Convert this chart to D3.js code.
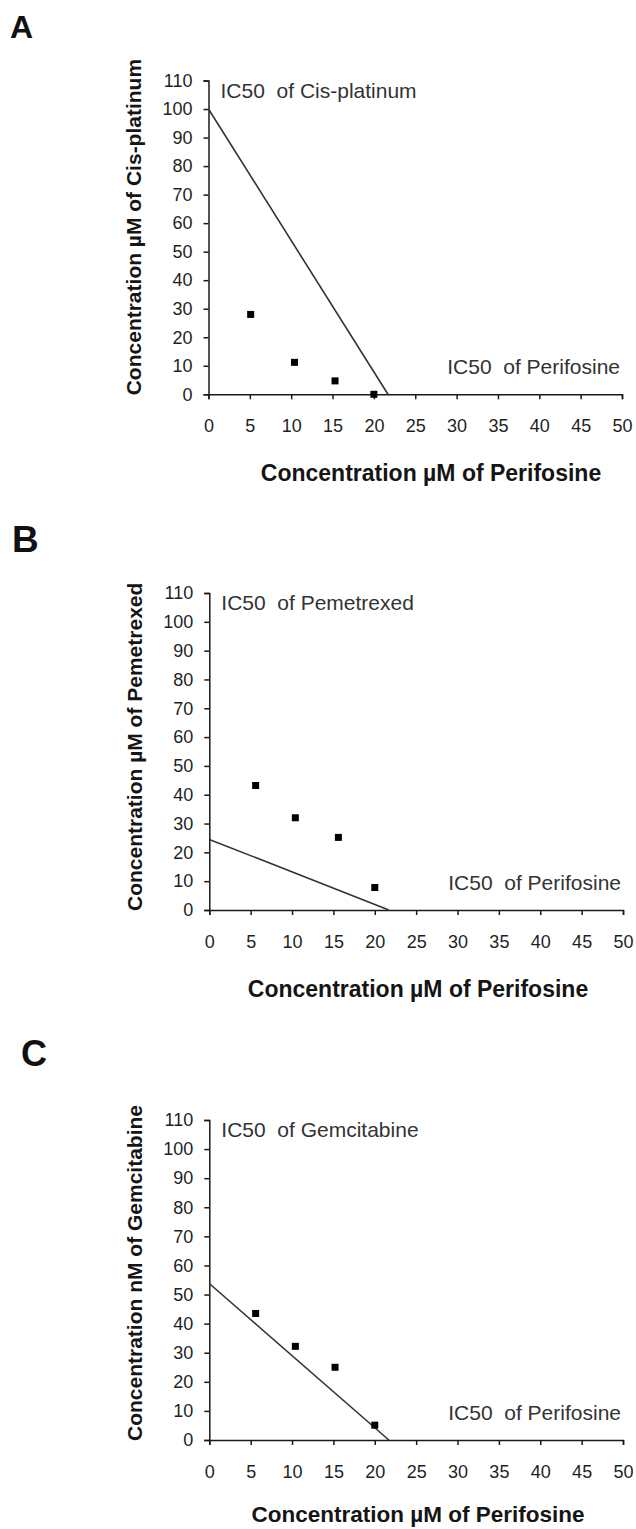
<!DOCTYPE html>
<html lang="en">
  <head>
    <meta charset="UTF-8" />
    <title>Isobologram: Perifosine combinations</title>
    <script src="https://d3js.org/d3.v7.min.js"></script>
    <style>
      body {
        margin: 0;
        background: #fff;
      }
      svg text {
        font-family: "Liberation Sans", Arial, sans-serif;
      }
      .tick text {
        font-size: 18px;
        fill: #1f1f1f;
      }
      .tick line,
      .domain {
        stroke: #1a1a1a;
        stroke-width: 1.5;
      }
      .ic50 {
        font-size: 21px;
        fill: #333;
        white-space: pre;
      }
      .title {
        font-weight: bold;
        fill: #151515;
        white-space: pre;
      }
    </style>
  </head>
  <body>
    <svg id="chart" width="636" height="1529"></svg>

    <script>
      // --- data ---
      const panelLetters = ["A", "B", "C"];
      const xTickValues = [0, 5, 10, 15, 20, 25, 30, 35, 40, 45, 50];
      const yTickValues = [0, 10, 20, 30, 40, 50, 60, 70, 80, 90, 100, 110];
      const xTitle = "Concentration µM of Perifosine";
      const yTitles = [
        "Concentration µM of Cis-platinum",
        "Concentration µM of Pemetrexed",
        "Concentration nM of Gemcitabine",
      ];
      const drugLabels = [
        "IC50  of Cis-platinum",
        "IC50  of Pemetrexed",
        "IC50  of Gemcitabine",
      ];
      const perifosineLabel = "IC50  of Perifosine";

      // additivity lines: [perifosine, drug]
      const lineA = [[0, 100], [21.7, 0]];
      const lineB = [[0, 24.5], [21.7, 0]];
      const lineC = [[0, 53.8], [21.7, 0]];

      // combination points: [perifosine, drug]
      const pointsA = [[5.1, 28], [10.4, 11.2], [15.3, 4.7], [20, 0]];
      const pointsB = [[5.6, 43.2], [10.4, 32], [15.6, 25.2], [20, 7.8]];
      const pointsC = [[5.6, 43.5], [10.4, 32.2], [15.2, 25], [20, 5.1]];

      const lines = [lineA, lineB, lineC];
      const points = [pointsA, pointsB, pointsC];

      // --- layout (pixels) ---
      const layout = [
        { lx: 10, ly: 38, lsize: 32, left: 208.5, right: 622, top: 80.5, bottom: 394.3, tx: 431, ty: 481, ts: 23, yt: 141 },
        { lx: 12, ly: 552, lsize: 37, left: 209.3, right: 623, top: 593, bottom: 910, tx: 418, ty: 997, ts: 23, yt: 142 },
        { lx: 21, ly: 1066, lsize: 36, left: 209.3, right: 623, top: 1120, bottom: 1440, tx: 418, ty: 1522, ts: 22.5, yt: 142 },
      ];

      const svg = d3.select("#chart");

      layout.forEach((p, i) => {
        const g = svg.append("g");

        const x = d3.scaleLinear().domain([0, 50]).range([p.left, p.right]);
        const y = d3.scaleLinear().domain([0, 110]).range([p.bottom, p.top]);

        // panel letter
        g.append("text")
          .attr("x", p.lx)
          .attr("y", p.ly)
          .attr("font-size", p.lsize)
          .attr("font-weight", "bold")
          .attr("fill", "#111")
          .text(panelLetters[i]);

        // axes
        g.append("g")
          .attr("transform", `translate(0,${p.bottom})`)
          .call(
            d3.axisBottom(x)
              .tickValues(xTickValues)
              .tickFormat(d3.format("d"))
              .tickSize(5)
              .tickSizeOuter(5)
              .tickPadding(20)
          );

        g.append("g")
          .attr("transform", `translate(${p.left},0)`)
          .call(
            d3.axisLeft(y)
              .tickValues(yTickValues)
              .tickFormat(d3.format("d"))
              .tickSize(5)
              .tickSizeOuter(5)
              .tickPadding(11)
          );

        g.selectAll(".tick text").attr("font-family", null).attr("font-size", null);
        g.selectAll(".domain").attr("fill", "none");

        // additivity line
        g.append("path")
          .datum(lines[i])
          .attr("fill", "none")
          .attr("stroke", "#333")
          .attr("stroke-width", 1.6)
          .attr("d", d3.line().x((d) => x(d[0])).y((d) => y(d[1])));

        // combination points
        g.selectAll(".pt")
          .data(points[i])
          .enter()
          .append("rect")
          .attr("class", "pt")
          .attr("x", (d) => x(d[0]) - 3.5)
          .attr("y", (d) => y(d[1]) - 3.5)
          .attr("width", 7)
          .attr("height", 7)
          .attr("fill", "#000");

        // IC50 labels
        g.append("text")
          .attr("class", "ic50")
          .attr("x", p.left + 12)
          .attr("y", p.top + 17)
          .text(drugLabels[i]);

        g.append("text")
          .attr("class", "ic50")
          .attr("x", p.right - 2)
          .attr("y", p.bottom - 20)
          .attr("text-anchor", "end")
          .text(perifosineLabel);

        // axis titles
        g.append("text")
          .attr("class", "title")
          .attr("x", p.tx)
          .attr("y", p.ty)
          .attr("text-anchor", "middle")
          .style("font-size", p.ts + "px")
          .text(xTitle);

        g.append("text")
          .attr("class", "title")
          .attr("transform", `translate(${p.yt},${p.bottom + 1}) rotate(-90)`)
          .attr("text-anchor", "start")
          .style("font-size", "21px")
          .text(yTitles[i]);
      });
    </script>
  </body>
</html>
